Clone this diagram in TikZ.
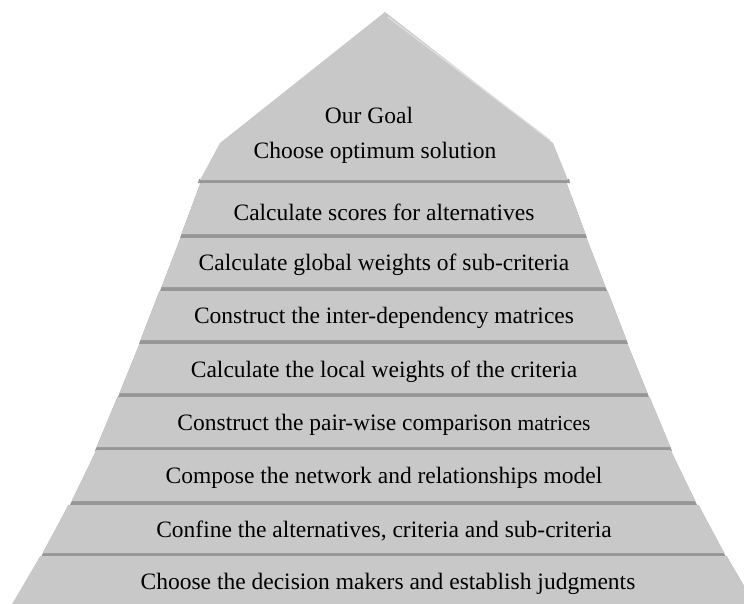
\documentclass[tikz,border=0pt]{standalone}
\usepackage{fontspec}
\setmainfont{Liberation Serif}
\usetikzlibrary{calc}
\definecolor{tier_grey}{RGB}{200,200,200}
\definecolor{tier_shade}{RGB}{150,150,150}
\definecolor{tier_light}{RGB}{224,224,224}
\tikzset{
  tier/.style={fill=tier_grey,draw=none},
  tiershade/.style={fill=tier_shade,draw=none},
  ridge/.style={draw=tier_light,line width=1.2pt},
  steptext/.style={font=\fontsize{23.5}{28}\selectfont,inner sep=0pt,text=black},
}
\begin{document}
\begin{tikzpicture}[x=1pt,y=-1pt]
  \useasboundingbox (0,0) rectangle (744,603);
  \clip (0,0) rectangle (744,603);
  % goal on top
  \fill[tiershade] (199,179) -- (569,179) -- (570,183) -- (198,183) -- cycle;
  \fill[tier] (385,12) -- (220,143) -- (200,180) -- (568,180) -- (553,143) -- cycle;
  \draw[ridge] (388,17) -- (550,140);
  \node[steptext] (goal) at (369,115) {Our Goal};
  \node[steptext] (goal2) at (375,153) {Choose optimum solution};
  % the steps, top y / bottom y / half width at top / half width at bottom
  \foreach \yt/\yb/\wt/\wb in {183/234/183/202, 238/287/203/222, 291/340/224/243,
      344/393/244/264, 397/447/266/287, 450/501/287/312, 505/553/315/341, 556/610/343/375}{
    \fill[tiershade] (383.5-\wt,\yt) -- (383.5+\wt,\yt) -- (383.5+\wb+1.5,\yb+4) -- (383.5-\wb-1.5,\yb+4) -- cycle;
    \fill[tier] (383.5-\wt,\yt) -- (383.5+\wt,\yt) -- (383.5+\wb,\yb) -- (383.5-\wb,\yb) -- cycle;
  }
  \node[steptext] (s1) at (384,212) {Calculate scores for alternatives};
  \node[steptext] (s2) at (384,265) {Calculate global weights of sub-criteria};
  \node[steptext] (s3) at (384,318) {Construct the inter-dependency matrices};
  \node[steptext] (s4) at (384,372) {Calculate the local weights of the criteria};
  \node[steptext] (s5) at (384,425) {Construct the pair-wise comparison {\fontsize{21.5}{26}\selectfont matrices}};
  \node[steptext] (s6) at (384,478) {Compose the network and relationships model};
  \node[steptext] (s7) at (384,531) {Confine the alternatives, criteria and sub-criteria};
  \node[steptext] (s8) at (388,584) {Choose the decision makers and establish judgments};
\end{tikzpicture}
\end{document}
